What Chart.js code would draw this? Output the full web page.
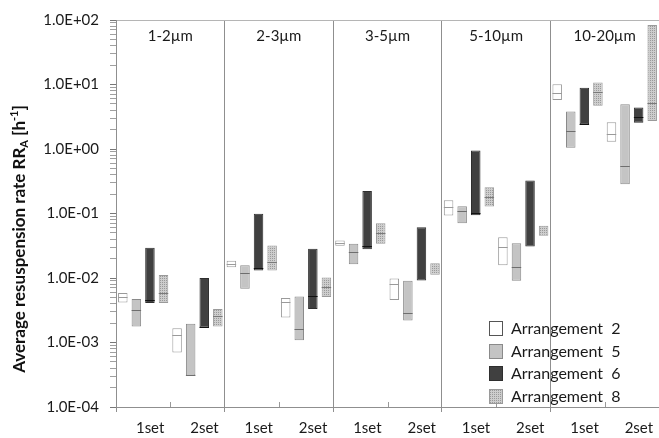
<!DOCTYPE html>
<html>
<head>
<meta charset="utf-8">
<script src="https://cdn.jsdelivr.net/npm/chart.js@4/dist/chart.umd.min.js"></script>
<style>
html,body{margin:0;padding:0;background:#fff;overflow:hidden;}
canvas{display:block;}
</style>
</head>
<body>
<canvas id="c" width="659" height="438"></canvas>
<script>
// ---- data ----
const categories = ['1set','2set','1set','2set','1set','2set','1set','2set','1set','2set'];
const groups = ['1-2\u00b5m','2-3\u00b5m','3-5\u00b5m','5-10\u00b5m','10-20\u00b5m'];
const seriesNames = ['Arrangement  2','Arrangement  5','Arrangement  6','Arrangement  8'];

const arr2Min = [4.17e-3, 7.0e-4, 1.47e-2, 2.44e-3, 3.15e-2, 4.54e-3, 9.3e-2, 1.58e-2, 5.77, 1.29];
const arr2Max = [5.83e-3, 1.67e-3, 1.85e-2, 4.88e-3, 3.81e-2, 9.8e-3, 0.161, 4.30e-2, 10.1, 2.60];
const arr2Med = [5.06e-3, 1.33e-3, 1.65e-2, 4.23e-3, 3.47e-2, 8.2e-3, 0.124, 3.01e-2, 7.32, 1.70];

const arr5Min = [1.77e-3, 3.09e-4, 6.8e-3, 1.08e-3, 1.64e-2, 2.20e-3, 7.08e-2, 9.06e-3, 1.05, 0.285];
const arr5Max = [4.71e-3, 1.95e-3, 1.58e-2, 5.17e-3, 3.39e-2, 9.05e-3, 0.130, 3.47e-2, 3.80, 4.94];
const arr5Med = [3.21e-3, 3.12e-4, 1.19e-2, 1.62e-3, 2.55e-2, 2.86e-3, 0.110, 1.47e-2, 1.89, 0.547];

const arr6Min = [4.08e-3, 1.71e-3, 1.31e-2, 3.30e-3, 2.80e-2, 9.14e-3, 9.42e-2, 3.08e-2, 2.42, 2.56];
const arr6Max = [2.94e-2, 9.96e-3, 9.88e-2, 2.83e-2, 0.224, 6.14e-2, 0.944, 0.324, 8.93, 4.38];
const arr6Med = [4.59e-3, 1.75e-3, 1.42e-2, 5.17e-3, 3.08e-2, null, 0.1035, null, 2.48, 3.14];

const arr8Min = [4.08e-3, 1.77e-3, 1.31e-2, 5.06e-3, 3.39e-2, 1.12e-2, 0.128, 4.51e-2, 4.70, 2.72];
const arr8Max = [1.11e-2, 3.30e-3, 3.19e-2, 1.02e-2, 7.08e-2, 1.70e-2, 0.256, 6.44e-2, 10.7, 83.7];
const arr8Med = [5.83e-3, 2.53e-3, 1.80e-2, 7.13e-3, 4.96e-2, null, 0.183, null, 7.67, 5.12];

const yMin = 1e-4, yMax = 1e2;
const FONT = 'Lato';

// ---- styles ----
function stipple(){
  const p = document.createElement('canvas'); p.width = 2; p.height = 2;
  const g = p.getContext('2d');
  g.fillStyle = '#cdcdcd'; g.fillRect(0,0,2,2);
  g.fillStyle = '#9a9a9a'; g.fillRect(0,0,1,1);
  return g.createPattern(p,'repeat');
}
const pat = stipple();
const fills = ['#ffffff', '#c4c4c4', '#404040', pat];
const borders = ['#9a9a9a', '#8a8a8a', '#2e2e2e', '#9a9a9a'];
const medColors = ['#9a9a9a', '#6e6e6e', '#111111', '#7a7a7a'];
const mins = [arr2Min, arr5Min, arr6Min, arr8Min];
const maxs = [arr2Max, arr5Max, arr6Max, arr8Max];
const meds = [arr2Med, arr5Med, arr6Med, arr8Med];

const datasets = seriesNames.map((n,i)=>({
  label: n,
  data: mins[i].map((v,j)=>[v, maxs[i][j]]),
  backgroundColor: fills[i],
  borderColor: borders[i],
  borderWidth: 1,
  borderSkipped: false,
  categoryPercentage: 1.0,
  barPercentage: 0.7
}));

function fmtExp(v){
  const e = Math.round(Math.log10(v));
  const s = e < 0 ? '-' : '+';
  const a = Math.abs(e);
  return '1.0E' + s + (a < 10 ? '0' + a : a);
}
function isMajor(v){ const l = Math.log10(v); return Math.abs(l - Math.round(l)) < 1e-9; }

const extras = {
  id: 'extras',
  afterDatasetsDraw(chart){
    const ctx = chart.ctx, ys = chart.scales.y, xs = chart.scales.x, ca = chart.chartArea;
    // medians
    for (let i = 0; i < 4; i++){
      const meta = chart.getDatasetMeta(i);
      meta.data.forEach((el, j) => {
        const m = meds[i][j];
        if (m == null) return;
        const y = Math.round(ys.getPixelForValue(m)) + 0.5;
        ctx.save();
        ctx.strokeStyle = medColors[i]; ctx.lineWidth = 1;
        ctx.beginPath(); ctx.moveTo(el.x - el.width/2, y); ctx.lineTo(el.x + el.width/2, y); ctx.stroke();
        ctx.restore();
      });
    }
    // inner small ticks between 1set and 2set
    const half = (xs.getPixelForValue(1) - xs.getPixelForValue(0)) / 2;
    ctx.save();
    ctx.strokeStyle = '#999'; ctx.lineWidth = 1;
    for (let k = 0; k < categories.length; k += 2){
      const x = Math.round(xs.getPixelForValue(k) + half) + 0.5;
      ctx.beginPath(); ctx.moveTo(x, ca.bottom); ctx.lineTo(x, ca.bottom - 5); ctx.stroke();
    }
    ctx.restore();
    // group labels
    ctx.save();
    ctx.font = '15px ' + FONT; ctx.fillStyle = '#1a1a1a';
    ctx.textAlign = 'center'; ctx.textBaseline = 'middle';
    groups.forEach((g, k) => {
      const x = (xs.getPixelForValue(2*k) + xs.getPixelForValue(2*k+1)) / 2;
      ctx.fillText(g, x, ca.top + 16);
    });
    ctx.restore();
    // legend
    ctx.save();
    const lx = 489, ly0 = 321, dy = 22.5;
    seriesNames.forEach((n, i) => {
      const y = Math.round(ly0 + i*dy);
      ctx.fillStyle = fills[i]; ctx.fillRect(lx, y, 13, 14);
      ctx.strokeStyle = i === 0 ? '#555' : borders[i]; ctx.lineWidth = 1;
      ctx.strokeRect(lx + 0.5, y + 0.5, 13, 14);
      ctx.fillStyle = '#1a1a1a'; ctx.font = '16px ' + FONT;
      ctx.textAlign = 'left'; ctx.textBaseline = 'middle';
      ctx.fillText(n, 511, y + 8);
    });
    ctx.restore();
    // y-axis title with subscript / superscript
    ctx.save();
    ctx.translate(20, 239);
    ctx.rotate(-Math.PI/2);
    ctx.fillStyle = '#111';
    ctx.textBaseline = 'middle'; ctx.textAlign = 'left';
    const big = 'bold 17px ' + FONT, small = 'bold 11px ' + FONT;
    const parts = [
      {t:'Average resuspension rate RR', f:big, dy:0},
      {t:'A', f:small, dy:4},
      {t:' [h', f:big, dy:0},
      {t:'-1', f:small, dy:-6},
      {t:']', f:big, dy:0}
    ];
    let total = 0;
    parts.forEach(p => { ctx.font = p.f; p.w = ctx.measureText(p.t).width; total += p.w; });
    let x = -total/2;
    parts.forEach(p => { ctx.font = p.f; ctx.fillText(p.t, x, p.dy); x += p.w; });
    ctx.restore();
  }
};

new Chart(document.getElementById('c'), {
  type: 'bar',
  data: { labels: categories, datasets },
  options: {
    responsive: false,
    animation: false,
    devicePixelRatio: 1,
    layout: { padding: { top: 20, right: 0, left: 0, bottom: 0 } },
    plugins: { legend: { display: false }, tooltip: { enabled: false } },
    scales: {
      x: {
        type: 'category',
        grid: {
          offset: true,
          drawOnChartArea: true,
          color: c => (c.index % 2 === 0 ? '#8f8f8f' : 'rgba(0,0,0,0)'),
          tickColor: c => (c.index % 2 === 0 ? '#8f8f8f' : 'rgba(0,0,0,0)'),
          tickLength: 5
        },
        border: { display: true, color: '#8f8f8f' },
        ticks: { font: { family: FONT, size: 15 }, color: '#1a1a1a', padding: 7, labelOffset: 7, maxRotation: 0, autoSkip: false },
        afterFit: s => { s.height = 31; }
      },
      y: {
        type: 'logarithmic',
        min: yMin, max: yMax,
        afterBuildTicks: s => {
          const t = [];
          for (let e = -4; e < 2; e++) for (let m = 1; m < 10; m++) t.push({ value: +(m * Math.pow(10, e)).toPrecision(3) });
          t.push({ value: 100 });
          s.ticks = t;
        },
        grid: {
          drawOnChartArea: true,
          color: c => (c.tick && c.tick.value === 100 ? '#b5b5b5' : 'rgba(0,0,0,0)'),
          tickColor: c => (c.tick && isMajor(c.tick.value) ? '#777' : '#a0a0a0'),
          tickLength: 6
        },
        border: { display: true, color: '#8f8f8f' },
        ticks: {
          autoSkip: false,
          font: { family: FONT, size: 15 }, color: '#1a1a1a', padding: 11,
          callback: v => (isMajor(v) ? fmtExp(v) : '')
        },
        afterFit: s => { s.width = 116; }
      }
    }
  },
  plugins: [extras]
});
</script>
</body>
</html>
